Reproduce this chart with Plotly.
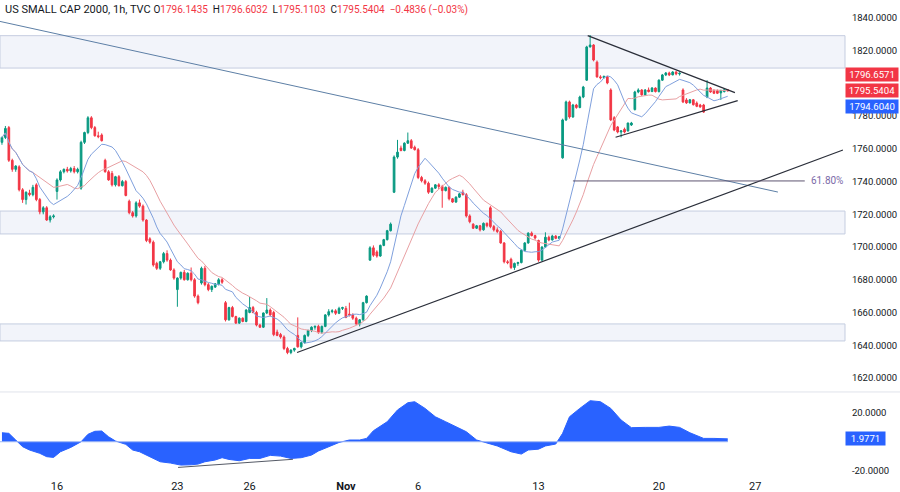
import plotly.graph_objects as go
import pandas as pd

# ---------------- data (hourly bars, Oct 11 .. Nov 22) ----------------
opens = [
    1764, 1767,
    1773, 1753, 1747.5, 1749, 1735, 1729, 1733,
    1732, 1738, 1729, 1721.5, 1724, 1716.5, 1718.5,
    1734, 1741, 1746, 1747.5, 1746.5, 1748, 1746,
    1736, 1764, 1770, 1779, 1773, 1768, 1768.5,
    1753, 1746, 1745, 1738, 1743, 1737.5, 1740,
    1728, 1721, 1719, 1727, 1725, 1716.5, 1705,
    1703, 1690, 1687, 1691, 1696, 1692, 1686,
    1674, 1681, 1684.5, 1680, 1684, 1680, 1670,
    1678, 1687, 1677, 1674, 1675.5, 1677.5, 1680,
    1666, 1655.5, 1663, 1657.5, 1653.5, 1656.5, 1654.5,
    1660, 1663, 1660, 1652.3, 1651, 1659.7, 1661.5,
    1660, 1648, 1646.5, 1645, 1638, 1635.5, 1637,
    1646, 1639, 1641.5, 1646, 1649, 1651, 1651.5,
    1648, 1651.5, 1658.5, 1660.5, 1661, 1659.5, 1662.5,
    1662.5, 1659, 1658.5, 1656.5, 1653, 1655.5, 1666,
    1692, 1699.5, 1697, 1694.5, 1701, 1704.5, 1710,
    1733.5, 1755, 1760.5, 1759, 1763.5, 1765, 1761,
    1759.5, 1742.5, 1740.5, 1739, 1733.5, 1736, 1738,
    1737, 1734.5, 1736.5, 1729.5, 1727.5, 1730.5, 1733.5,
    1732, 1719, 1714, 1711.5, 1713, 1710.5, 1714.5,
    1724, 1712.5, 1710.5, 1709.5, 1702.5, 1691, 1692.5,
    1687.5, 1690, 1690.5, 1698, 1702.5, 1708.5, 1707,
    1704, 1692, 1700, 1706, 1704.3, 1706.7, 1705.3,
    1754.5, 1777.7, 1788.7, 1779.5, 1786.8, 1785.3, 1791.7,
    1802, 1822.3, 1823.5, 1813, 1804, 1803.5, 1804,
    1796, 1779, 1773.4, 1770.3, 1772, 1771, 1774.6,
    1784, 1794.8, 1796, 1793, 1796, 1795, 1797.2,
    1795, 1802, 1805.2, 1806.4, 1805.2, 1807, 1805.8,
    1796, 1789.9, 1788.1, 1790, 1788, 1786.8, 1786.8,
    1791.7, 1797.2, 1795.5, 1795.5, 1794.2, 1795, 1796.1435,
]
highs = [
    1767.5, 1774,
    1774, 1754, 1750, 1750, 1736, 1734, 1735,
    1738, 1739, 1730, 1725, 1725, 1719.5, 1720,
    1742, 1747, 1748, 1749, 1749, 1749.5, 1748.5,
    1765, 1770.5, 1780, 1780, 1774, 1770.5, 1769.5,
    1754, 1747, 1746.5, 1743.5, 1744, 1741, 1741,
    1729, 1722, 1728, 1729, 1726, 1717, 1706,
    1704, 1691, 1691.5, 1697, 1698, 1693, 1687,
    1681.5, 1685, 1686, 1684.5, 1687.5, 1681, 1671,
    1688, 1688.5, 1678, 1676.5, 1678, 1681, 1681,
    1667, 1663.5, 1664, 1658, 1657, 1657, 1662,
    1669.5, 1664, 1661, 1653, 1660, 1668.8, 1662.5,
    1661, 1649.5, 1647.5, 1646, 1639, 1637.5, 1638.5,
    1657, 1642, 1646.5, 1649.5, 1651.5, 1652, 1652.5,
    1652, 1659, 1662, 1662, 1662, 1663.5, 1663.5,
    1664, 1666, 1659.5, 1657.5, 1656, 1666.5, 1670.5,
    1700.5, 1701, 1698, 1701.5, 1705, 1710.5, 1715,
    1756, 1765.5, 1762, 1764, 1770, 1766, 1762,
    1760.5, 1743.5, 1741.5, 1740, 1736.5, 1738.5, 1739,
    1738, 1737, 1737, 1730, 1731, 1733, 1735,
    1733, 1720, 1714.5, 1713.5, 1713.5, 1715, 1715,
    1725, 1713.5, 1712, 1710.5, 1703, 1692, 1693.5,
    1690.5, 1691, 1698.5, 1703, 1709, 1709.5, 1707.5,
    1704.5, 1700.5, 1709, 1707, 1707.5, 1707.3, 1706.8,
    1778.5, 1789.5, 1789.5, 1787.5, 1787.5, 1792.5, 1798.5,
    1823, 1829.6, 1824, 1814, 1805, 1804.8, 1804.5,
    1797, 1780, 1774, 1771.5, 1773, 1776, 1776.5,
    1795.5, 1797, 1796.5, 1796.5, 1797.5, 1797.8, 1797.6,
    1802.5, 1805.8, 1807, 1807.2, 1807.5, 1807.5, 1806.8,
    1797, 1791, 1790.5, 1790.5, 1789, 1787.5, 1787.5,
    1802, 1797.8, 1796.5, 1796.3, 1796, 1796.5, 1796.6032,
]
lows = [
    1762.5, 1766,
    1752, 1746, 1746, 1734, 1727, 1726, 1731,
    1731, 1728, 1720, 1720, 1716, 1715, 1717.5,
    1729, 1740, 1745, 1745.5, 1745.5, 1745, 1745,
    1735, 1763, 1769, 1772, 1767.5, 1766.5, 1764.5,
    1745.5, 1740.5, 1737, 1737, 1737, 1737, 1731,
    1720, 1718, 1718, 1724, 1715.5, 1703, 1702,
    1688, 1686, 1686, 1690, 1691, 1685.5, 1680,
    1663.5, 1680, 1679.5, 1679.5, 1679, 1669, 1665,
    1677, 1676, 1673, 1672.5, 1675, 1676.5, 1677.5,
    1654.5, 1655, 1657, 1653, 1653, 1654, 1654,
    1659.5, 1659.5, 1651.5, 1650.5, 1650.5, 1659, 1657.5,
    1645.5, 1645.5, 1644, 1637, 1634.5, 1634.5, 1636,
    1638.5, 1638, 1641, 1645, 1648, 1649.5, 1647,
    1647, 1651, 1657.5, 1659.5, 1658.5, 1659, 1661.5,
    1656.5, 1657.5, 1655.5, 1652.5, 1651.5, 1655, 1665.5,
    1691.5, 1694, 1693.5, 1694, 1700.5, 1704, 1709.5,
    1733, 1754, 1758.5, 1758.5, 1763, 1760, 1759,
    1741.5, 1739.5, 1738, 1732.5, 1733, 1735.5, 1735.5,
    1724, 1734, 1728.5, 1727, 1727, 1730, 1731.5,
    1718, 1714.5, 1711, 1711, 1709.5, 1710, 1712,
    1711.5, 1709.5, 1708.5, 1702, 1690, 1689.5, 1686.5,
    1686, 1688.5, 1690, 1697.5, 1702, 1706.5, 1704.5,
    1691, 1691.5, 1699.5, 1703.5, 1704, 1704.8, 1704.8,
    1754, 1777, 1778.5, 1779, 1784.5, 1784.8, 1791,
    1801.5, 1822, 1813.5, 1803.5, 1802.5, 1803, 1799.5,
    1777, 1770.8, 1769.5, 1767, 1769.5, 1770.5, 1774,
    1783.5, 1794, 1792.5, 1792.5, 1794.5, 1794.8, 1794.5,
    1794.5, 1801.5, 1804.5, 1804.5, 1805, 1805, 1804.8,
    1788, 1787.5, 1787.8, 1786.5, 1785.5, 1785.2, 1782,
    1791, 1794.3, 1793.5, 1793.5, 1789.9, 1794.5, 1795.1103,
]
closes = [
    1767, 1772.5,
    1753, 1747.5, 1749.5, 1735, 1729, 1733.5, 1732,
    1736.5, 1729, 1721.5, 1724, 1716.5, 1718.5, 1719,
    1741, 1746, 1747.5, 1746.5, 1748, 1746, 1747.5,
    1764, 1770, 1779, 1773, 1768, 1767.5, 1765,
    1746, 1741, 1738, 1743, 1737.5, 1740, 1731.5,
    1721, 1719, 1727, 1725, 1716.5, 1704, 1703,
    1689, 1687, 1691, 1696, 1692, 1686, 1681,
    1681, 1684.5, 1680, 1684, 1680, 1670, 1666,
    1687, 1677, 1674, 1676, 1677.5, 1680, 1678.5,
    1655.5, 1663, 1657.5, 1653.5, 1656.5, 1654.5, 1661.5,
    1663, 1660, 1652.3, 1651, 1659.7, 1661.5, 1658.5,
    1646.5, 1646, 1645, 1638, 1635.5, 1637, 1638,
    1639, 1641.5, 1646, 1649, 1651, 1651.5, 1648,
    1651.5, 1658.5, 1660.5, 1661, 1659.5, 1662.5, 1663,
    1657, 1658.5, 1656.5, 1653, 1655.5, 1666, 1670,
    1699.5, 1695, 1694.5, 1701, 1704.5, 1710, 1714,
    1755, 1758, 1759, 1763.5, 1765, 1760.5, 1759.5,
    1742.5, 1740.5, 1739, 1733.5, 1736, 1738, 1737,
    1734.5, 1736.5, 1729.5, 1727.5, 1730.5, 1732.5, 1732,
    1719, 1715.5, 1711.5, 1713, 1710.5, 1714.5, 1713,
    1712.5, 1710.5, 1709.5, 1702.5, 1691, 1690.5, 1687.5,
    1690, 1690.5, 1698, 1702.5, 1708.5, 1707, 1705.5,
    1692, 1700, 1706, 1704.3, 1706.7, 1705.3, 1706.3,
    1777.7, 1788.7, 1779.5, 1786.8, 1785.3, 1791.7, 1797.8,
    1822.3, 1823.5, 1814.3, 1804, 1803.5, 1804.3, 1800.3,
    1777.7, 1771.5, 1770.3, 1771, 1770.3, 1775.8, 1775.8,
    1794.8, 1796, 1793, 1796, 1795, 1797.2, 1795,
    1802, 1805.2, 1806.4, 1805.2, 1807, 1805.8, 1806.2,
    1788.7, 1788.1, 1790, 1787, 1786, 1785.6, 1782.5,
    1797.2, 1794.8, 1794, 1794, 1795.8, 1796.1, 1795.5404,
]

tick_index = [16, 51, 72, 100, 121, 156, 191, 219]
tick_text = ["16", "23", "26", "<b>Nov</b>", "6", "13", "20", "27"]

osc_index = [0, 2, 4, 6, 8, 11, 13, 15, 17, 20, 23, 25, 27, 29, 31, 33, 36, 38, 40,
             43, 46, 49, 52, 55, 57, 59, 62, 64, 66, 69, 72, 75, 78, 81, 84, 87, 90,
             92, 95, 98, 101, 104, 106, 108, 112, 115, 118, 120, 123, 126, 129, 132,
             135, 138, 141, 144, 148, 151, 153, 156, 158, 161, 163, 165, 168, 171,
             174, 177, 180, 183, 187, 191, 194, 197, 200, 204, 207, 211]
osc_value = [6.2, 5.8, 1.2, -3.4, -5.7, -8, -10.3, -10.8, -6.9, -3.9, 0, 5.1, 7.2, 7.4,
             3.4, 0.5, -1.8, -5.7, -6.9, -10.3, -13.8, -14.7, -16.1, -15.9, -15.4,
             -13.8, -12.6, -11, -12.2, -13.1, -11.5, -11.5, -9.4, -9.9, -11.5, -11,
             -9.2, -6.4, -3.4, -0.5, 1.2, 1.2, 2.3, 7.6, 13.8, 21.9, 26.9, 27.6, 23,
             17.2, 13.8, 10.3, 6.9, 1.2, -1.1, -2.9, -6.9, -8.5, -5.7, -5.1, -2.9,
             -1.6, 5.8, 17.2, 23, 28.3, 27.6, 23, 15, 9.7, 9.9, 9.9, 10.8, 9.9, 6.2,
             2.3, 2.3, 1.9771]

# 1800 is hidden behind the last-value labels in the original, so it is not listed
price_ticks = [1620, 1640, 1660, 1680, 1700, 1720, 1740, 1760, 1780, 1820, 1840]
osc_ticks = [-20, 20]

zone_low = [1809.4, 1708.0, 1642.6]
zone_high = [1829.2, 1722.0, 1653.0]

falling_line = [(-0.57, 1837.9), (225.6, 1733.6)]
rising_line = [(85.8, 1635.5), (244.5, 1759.3)]
tri_upper = [(170.3, 1829.2), (213.1, 1794.4)]
tri_lower = [(178.4, 1767.1), (213.9, 1789.5)]
fib_level = 1740.4
fib_span = (166, 233.4)
osc_line = [(51.2, -17.7), (84.6, -12.1)]

label_red_ma = 1796.6571
label_blue_ma = 1794.6040
label_osc = 1.9771
change_text = "−0.4836 (−0.03%)"

# ---------------- styling ----------------
GREEN = "#089981"
RED = "#f23645"
BLUE = "#2962ff"
TXT = "#131722"
FONT = "Roboto, Arial, sans-serif"

x = list(range(len(closes)))
s = pd.Series(closes)
ma_fast = s.rolling(10, min_periods=1).mean()
ma_slow = s.rolling(20, min_periods=1).mean()

fig = go.Figure()
fig.add_trace(go.Candlestick(
    x=x, open=opens, high=highs, low=lows, close=closes,
    increasing=dict(line=dict(color=GREEN, width=1), fillcolor=GREEN),
    decreasing=dict(line=dict(color=RED, width=1), fillcolor=RED),
    whiskerwidth=0, showlegend=False, hoverinfo="skip", xaxis="x", yaxis="y"))
fig.add_trace(go.Scatter(x=x, y=ma_slow, mode="lines", line=dict(color="#e8a0a3", width=1),
                         showlegend=False, hoverinfo="skip", xaxis="x", yaxis="y"))
fig.add_trace(go.Scatter(x=x, y=ma_fast, mode="lines", line=dict(color="#7fa0dd", width=1),
                         showlegend=False, hoverinfo="skip", xaxis="x", yaxis="y"))
fig.add_trace(go.Scatter(x=osc_index, y=osc_value, mode="lines", fill="tozeroy",
                         fillcolor=BLUE, line=dict(color=BLUE, width=1),
                         showlegend=False, hoverinfo="skip", xaxis="x2", yaxis="y2"))

shapes = []
for lo, hi in zip(zone_low, zone_high):
    shapes.append(dict(type="rect", xref="paper", yref="y", x0=0, x1=1, y0=lo, y1=hi,
                       fillcolor="#f2f4fa", line=dict(color="#c5cde0", width=1), layer="below"))
for (a, b), col, w in [(falling_line, "#5d7fa6", 1), (rising_line, "#2a2e39", 1.2),
                       (tri_upper, "#2a2e39", 1.2), (tri_lower, "#2a2e39", 1.2)]:
    shapes.append(dict(type="line", xref="x", yref="y", x0=a[0], y0=a[1], x1=b[0], y1=b[1],
                       line=dict(color=col, width=w)))
shapes.append(dict(type="line", xref="x", yref="y", x0=fib_span[0], x1=fib_span[1],
                   y0=fib_level, y1=fib_level, line=dict(color="#5e5470", width=1)))
shapes.append(dict(type="line", xref="x2", yref="y2", x0=osc_line[0][0], y0=osc_line[0][1],
                   x1=osc_line[1][0], y1=osc_line[1][1], line=dict(color="#555a66", width=1)))
shapes.append(dict(type="line", xref="x2", yref="y2", x0=-0.57, x1=211, y0=0, y1=0,
                   line=dict(color="#9db6f5", width=1)))
# pane separator
shapes.append(dict(type="line", xref="paper", yref="paper", x0=0, x1=1.07, y0=0.18, y1=0.18,
                   line=dict(color="#e0e3eb", width=1)))

ann = []
vs = "font-size:10px"
title = (f"<span style='color:{TXT}'>US SMALL CAP 2000, 1h, TVC</span> "
         f"<span style='{vs}'>O<span style='color:{RED}'>{opens[-1]:.4f}</span>  "
         f"H<span style='color:{RED}'>{highs[-1]:.4f}</span>  "
         f"L<span style='color:{RED}'>{lows[-1]:.4f}</span>  "
         f"C<span style='color:{RED}'>{closes[-1]:.4f}</span>  "
         f"<span style='color:{RED}'>{change_text}</span></span>")
ann.append(dict(xref="paper", yref="paper", x=0, y=1, xanchor="left", yanchor="top",
                xshift=3, yshift=-1, text=title, showarrow=False,
                font=dict(family=FONT, size=11, color=TXT)))
ann.append(dict(xref="x", yref="y", x=239.8, y=fib_level, text="61.80%", showarrow=False,
                xanchor="center", yanchor="middle", font=dict(family=FONT, size=10, color="#7b6aa8")))
for val, col, shift in [(label_red_ma, RED, 14), (closes[-1], RED, 0), (label_blue_ma, BLUE, -14)]:
    ann.append(dict(xref="paper", yref="y", x=1, y=val, xanchor="left", yanchor="middle",
                    yshift=shift, text=f"{val:.4f}", showarrow=False, bgcolor=col,
                    width=50, height=11, borderpad=1,
                    font=dict(family=FONT, size=9.6, color="white")))
ann.append(dict(xref="paper", yref="y2", x=1, y=label_osc, xanchor="left", yanchor="middle",
                text=f"{label_osc:.4f}", showarrow=False, bgcolor=BLUE, width=37, height=11,
                borderpad=1, font=dict(family=FONT, size=9.6, color="white")))

xr = [-0.57, 245.1]
fig.update_layout(
    width=900, height=492, margin=dict(l=0, r=55, t=0, b=14, autoexpand=False),
    paper_bgcolor="white", plot_bgcolor="white",
    font=dict(family=FONT, size=10, color=TXT),
    showlegend=False, shapes=shapes, annotations=ann,
    xaxis=dict(domain=[0, 1], range=xr, anchor="y", showticklabels=False, showgrid=False,
               zeroline=False, showline=False, rangeslider=dict(visible=False), fixedrange=True),
    xaxis2=dict(domain=[0, 1], range=xr, anchor="y2", matches="x", tickmode="array",
                tickvals=tick_index, ticktext=tick_text, showgrid=False, zeroline=False,
                showline=False, ticks="", tickfont=dict(family=FONT, size=11, color=TXT)),
    yaxis=dict(domain=[0.182, 1], range=[1612.0, 1851.0], side="right", tickmode="array",
               tickvals=price_ticks, ticktext=[f"{v:.4f}" for v in price_ticks],
               showgrid=False, zeroline=False, showline=False, ticks="outside", ticklen=4,
               tickcolor="rgba(0,0,0,0)", tickfont=dict(family=FONT, size=9.5, color=TXT)),
    yaxis2=dict(domain=[0, 0.1778], range=[-25.0, 33.6], side="right", tickmode="array",
                tickvals=osc_ticks, ticktext=[f"{v:.4f}" for v in osc_ticks],
                showgrid=False, zeroline=False, showline=False, ticks="outside", ticklen=4,
                tickcolor="rgba(0,0,0,0)", tickfont=dict(family=FONT, size=9.5, color=TXT)),
)

fig.write_html("out.html", config={"displayModeBar": False},
               post_script="document.body.style.margin='0';document.body.style.padding='0';"
                           "document.documentElement.style.overflow='hidden';")
